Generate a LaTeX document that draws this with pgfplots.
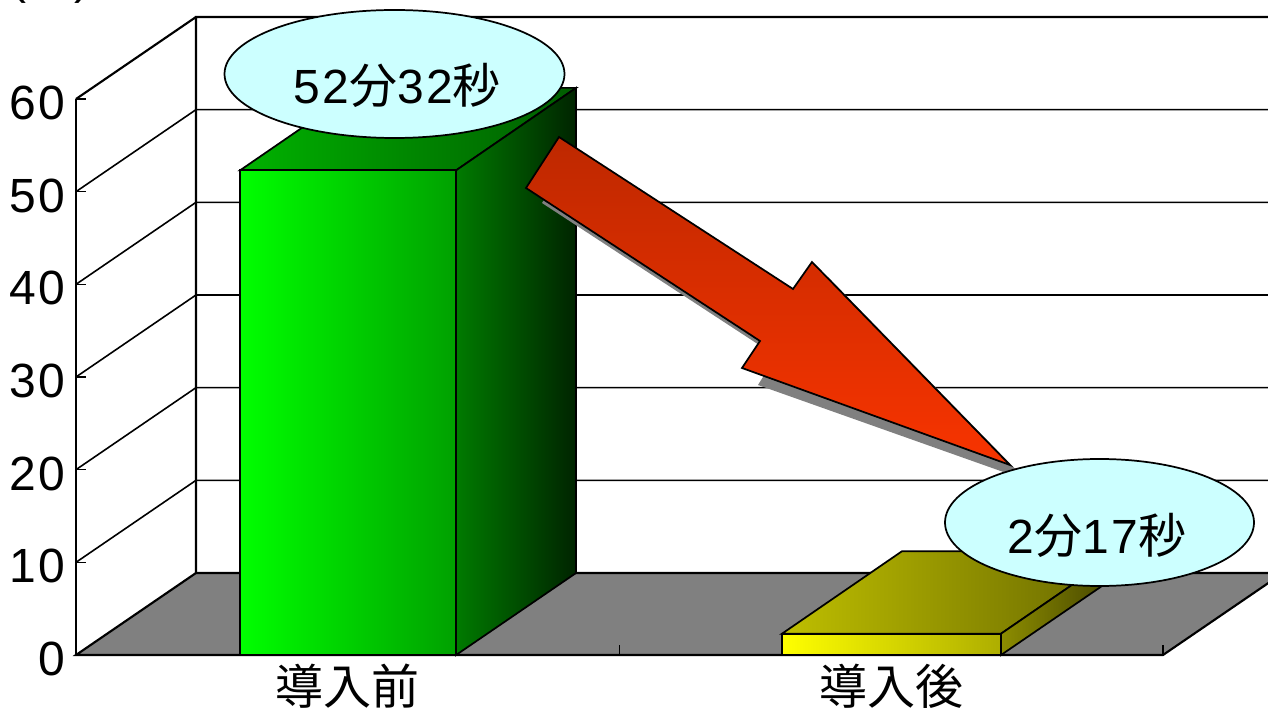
\documentclass[border=0pt]{standalone}
\usepackage{fontspec}
\setmainfont{Liberation Sans}[LetterSpace=5]
\newfontfamily\cjk{Noto Sans CJK JP}
\usepackage{pgfplots}
\pgfplotsset{compat=1.18}
\definecolor{bubble}{HTML}{CCFFFF}
\definecolor{arrowtop}{HTML}{BE2800}
\definecolor{arrowlow}{HTML}{F83400}
\definecolor{floorgray}{HTML}{808080}
\newcommand\bigfont{\fontsize{36pt}{40pt}\selectfont}
% 1px = 0.75pt; picture is 1268x711 px
\begin{document}
\begin{tikzpicture}
    \path[clip,use as bounding box] (0,0) rectangle (951pt,533.25pt);
    \begin{axis}[
        at={(57pt,42pt)},anchor=south west,
        scale only axis,width=815.25pt,height=417pt,
        xmin=0.5,xmax=2.5,ymin=0,ymax=60,
        clip=false,axis on top,
        axis x line*=bottom,axis y line*=left,
        x axis line style={-,line width=1.6pt},
        y axis line style={-,line width=1.6pt},
        xtick={0.5,1.5,2.5},xticklabels={},
        extra x ticks={1,2},extra x tick labels={{\cjk 導入前},{\cjk 導入後}},
        extra x tick style={major tick length=0pt,tick style={draw=none}},
        ytick={0,10,20,30,40,50,60},
        tick style={draw=black,line width=0.9pt},
        major tick length=7.5pt,tick align=inside,
        tick label style={font=\bigfont},
        xticklabel style={yshift=-3pt},
        yticklabel style={xshift=-4.5pt,yshift=-3pt},
        /pgf/number format/assume math mode=true,
    ]
        % floor
        \addplot[draw=black,line width=1.6pt,fill=floorgray] coordinates {
            (0.5,0) (0.7208,8.85) (2.7208,8.85) (2.5,0)
        } -- cycle;
        % walls and grid
        \addplot[black,line width=1.6pt,unbounded coords=jump] coordinates {
            (0.7208,8.85) (0.7208,68.85) (2.7208,68.85)
            (0.7208,nan)
            (0.5,60) (0.7208,68.85)
        };
        \addplot[black,line width=1.2pt,unbounded coords=jump] coordinates {
            (0.5,10) (0.7208,18.85) (2.7208,18.85) (0.5,nan)
            (0.5,20) (0.7208,28.85) (2.7208,28.85) (0.5,nan)
            (0.5,30) (0.7208,38.85) (2.7208,38.85) (0.5,nan)
            (0.5,40) (0.7208,48.85) (2.7208,48.85) (0.5,nan)
            (0.5,50) (0.7208,58.85) (2.7208,58.85)
        };
        % bar 1: 52.3
        \addplot[draw=black,line width=1.3pt,left color=green!70!black,right color=green!36!black] coordinates {
            (0.8018,52.3) (1.0226,61.2) (1.4201,61.2) (1.1993,52.3)
        } -- cycle;
        \addplot[draw=black,line width=1.3pt,left color=green!48!black,right color=green!14!black] coordinates {
            (1.1993,0) (1.1993,52.3) (1.4201,61.2) (1.4201,8.85)
        } -- cycle;
        \addplot[draw=black,line width=1.3pt,left color=green,right color=green!63!black] coordinates {
            (0.8018,0) (0.8018,52.3) (1.1993,52.3) (1.1993,0)
        } -- cycle;
        % bar 2: 2.3
        \addplot[draw=black,line width=1.3pt,left color=yellow!75!black,right color=yellow!40!black] coordinates {
            (1.799,2.3) (2.0198,11.2) (2.4228,11.2) (2.202,2.3)
        } -- cycle;
        \addplot[draw=black,line width=1.3pt,left color=yellow!55!black,right color=yellow!25!black] coordinates {
            (2.202,0) (2.202,2.3) (2.4228,11.2) (2.4228,8.85)
        } -- cycle;
        \addplot[draw=black,line width=1.3pt,left color=yellow,right color=yellow!68!black] coordinates {
            (1.799,0) (1.799,2.3) (2.202,2.3) (2.202,0)
        } -- cycle;
    \end{axis}
    % annotations, in pixels of the picture
    \begin{scope}[x=0.75pt,y=-0.75pt,yshift=533.25pt]
        \fill[floorgray] (542,203) -- (575,152) -- (809,304) -- (828,277) -- (1026,480) -- (758,385) -- (776,356) -- cycle;
        \draw[black,line width=1.3pt,top color=arrowtop,bottom color=arrowlow]
            (559,137) -- (793,289) -- (812,262) -- (1010,465) -- (742,368) -- (760,341) -- (526,188) -- cycle;
        \draw[black,line width=1.3pt,fill=bubble] (394.5,74) ellipse (170 and 64);
        \draw[black,line width=1.3pt,fill=bubble] (1099.5,522.5) ellipse (154.5 and 63.5);
        \node[font=\bigfont,inner sep=0pt] at (397,85) {52{\cjk 分}32{\cjk 秒}};
        \node[font=\bigfont,inner sep=0pt] at (1097,535) {2{\cjk 分}17{\cjk 秒}};
        \node[font=\bigfont,inner sep=0pt,anchor=base] at (50,-6) {({\cjk 分})};
    \end{scope}
\end{tikzpicture}
\end{document}
